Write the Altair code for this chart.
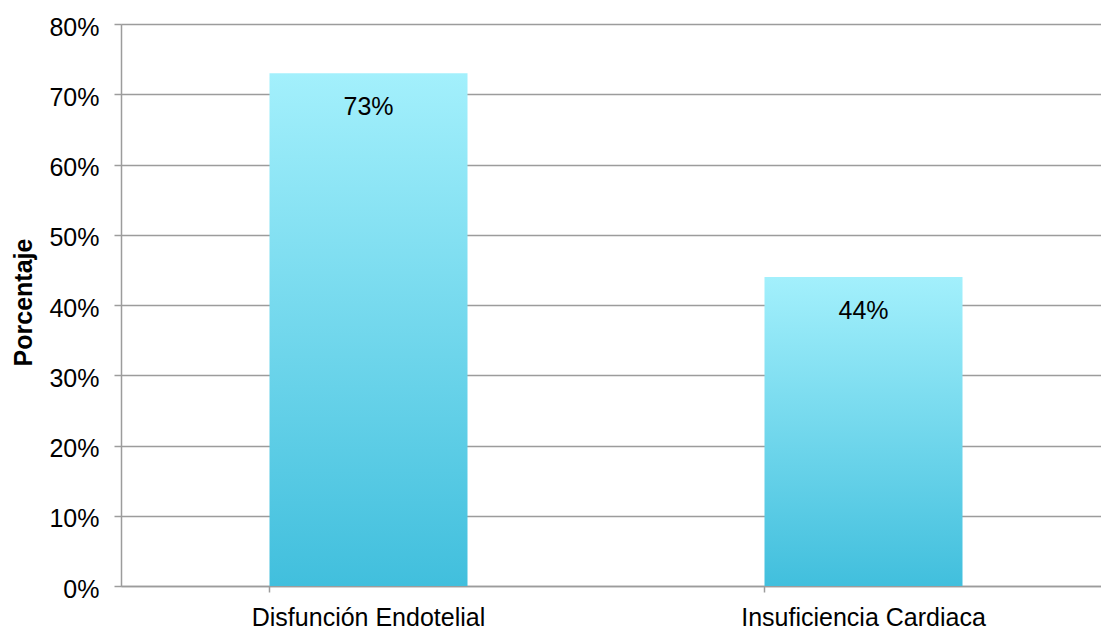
import altair as alt
import pandas as pd

# Share of patients in each group
categories = ["Disfunción Endotelial", "Insuficiencia Cardiaca"]
values = [0.73, 0.44]
y_ticks = [0, 0.1, 0.2, 0.3, 0.4, 0.5, 0.6, 0.7, 0.8]

df = pd.DataFrame({"grupo": categories, "pct": values})

FONT = "Liberation Sans"
GRAY = "#9c9c9c"
SIZE = 25

bar_fill = alt.Gradient(
    gradient="linear",
    stops=[
        alt.GradientStop(color="#41bfdd", offset=0),
        alt.GradientStop(color="#a3f0fc", offset=1),
    ],
    x1=0, x2=0, y1=1, y2=0,
)

x_enc = alt.X(
    "grupo:N",
    sort=categories,
    title=None,
    scale=alt.Scale(range=[0, 990], paddingInner=0.6, paddingOuter=0.3),
    axis=alt.Axis(
        bandPosition=0,
        labelAngle=0,
        labelLimit=0,
        labelFont=FONT,
        labelFontSize=SIZE,
        labelColor="#000000",
        labelPadding=13,
        tickSize=6,
        tickColor=GRAY,
        tickWidth=1.5,
        domainColor=GRAY,
        domainWidth=1.5,
        grid=False,
    ),
)

y_enc = alt.Y(
    "pct:Q",
    title="Porcentaje",
    scale=alt.Scale(domain=[0, 0.8], nice=False),
    axis=alt.Axis(
        values=y_ticks,
        format=".0%",
        labelFont=FONT,
        labelFontSize=SIZE,
        labelColor="#000000",
        labelPadding=15,
        labelOffset=3,
        tickSize=7,
        tickColor=GRAY,
        tickWidth=1.5,
        domainColor=GRAY,
        domainWidth=1.5,
        gridColor=GRAY,
        gridWidth=1.5,
        titleFont=FONT,
        titleFontSize=SIZE,
        titleFontWeight="bold",
        titleColor="#000000",
        titlePadding=12,
        titleY=278,
    ),
)

bars = alt.Chart(df).mark_bar(color=bar_fill).encode(x=x_enc, y=y_enc)

labels = alt.Chart(df).mark_text(
    baseline="middle", dy=34, font=FONT, fontSize=SIZE, color="#000000"
).encode(
    x=alt.X("grupo:N", sort=categories),
    y="pct:Q",
    text=alt.Text("pct:Q", format=".0%"),
)

chart = (
    alt.layer(bars, labels)
    .properties(
        width=980,
        height=562,
        autosize=alt.AutoSizeParams(type="none"),
        padding={"left": 121, "top": 24, "right": 0, "bottom": 44},
    )
    .configure_view(stroke=None)
    .configure(background="#ffffff")
)

chart.save("out.html", embed_options={"renderer": "svg", "actions": False})
